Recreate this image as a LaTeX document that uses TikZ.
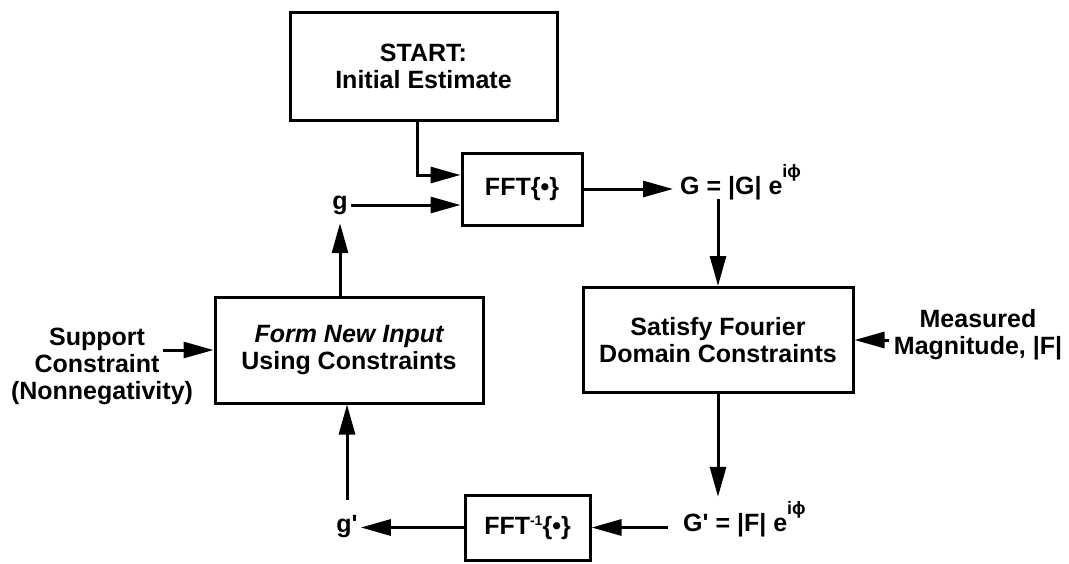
\documentclass[tikz,border=0pt]{standalone}
\usepackage{fontspec}
\setmainfont{Liberation Sans}
\usetikzlibrary{arrows.meta,calc}
\tikzset{
  box/.style={draw,line width=3pt,align=center,inner sep=0pt},
  lbl/.style={align=center,inner sep=3pt},
  arr/.style={line width=3pt,-{Triangle[length=30pt,width=16pt]}},
  every node/.style={font=\bfseries\fontsize{25}{27}\selectfont},
}
\newcommand{\supiphi}{\raisebox{17pt}{\fontsize{18}{18}\selectfont iϕ}}
\begin{document}
\begin{tikzpicture}[x=1pt,y=-1pt]
\useasboundingbox (0,0) rectangle (1069,563);
% boxes
\node[box,minimum width=267pt,minimum height=108pt] (start) at (423.5,66) {START:\\Initial Estimate};
\node[box,minimum width=120pt,minimum height=72pt] (fft) at (522,189) {FFT\{•\}};
\node[box,minimum width=270pt,minimum height=105pt] (sat) at (718,340) {Satisfy Fourier\\Domain Constraints};
\node[box,minimum width=268pt,minimum height=106pt] (form) at (349,350) {{\itshape Form New Input}\\Using Constraints};
\node[box,minimum width=125pt,minimum height=65pt] (fftinv) at (527.5,527.5) {FFT\raisebox{9pt}{\fontsize{14}{14}\selectfont -1}\{•\}};
% labels
\node[anchor=base west,inner xsep=7pt,inner ysep=0pt,text height=34pt,text depth=5pt] (G) at (673,194) {G = |G| e\supiphi};
\node[anchor=base west,inner xsep=15pt,inner ysep=0pt,text height=34pt,text depth=5pt] (Gp) at (668,531) {G\textquotesingle{} = |F| e\supiphi};
\node[lbl,minimum height=36pt] (g) at (340,205) {g};
\node[lbl,minimum height=54pt] (gp) at (347,527) {g\textquotesingle};
\node[lbl] (sup) at (97,350) {Support\\Constraint};
\node[lbl] (nonneg) at (102,393) {(Nonnegativity)};
\node[lbl,inner xsep=5pt] (meas) at (978,335) {Measured\\Magnitude, |F|};
% connectors
\coordinate (bend) at (417,175);
\draw[arr] (start.south -| bend) -- (bend) -- (fft.west |- bend);
\draw[arr] (g.east) -- (fft.west |- g.east);
\draw[arr] (fft.east) -- (G.west |- fft.east);
\draw[arr] (G.south -| sat.north) -- (sat.north);
\draw[arr] (meas.west |- sat.east) -- (sat.east);
\draw[arr] (sat.south) -- (Gp.north -| sat.south);
\draw[arr] (Gp.west |- fftinv.east) -- (fftinv.east);
\draw[arr] (fftinv.west) -- (gp.east |- fftinv.west);
\draw[arr] (gp.north) -- (form.south -| gp.north);
\draw[arr] (form.north -| g.south) -- (g.south);
\draw[arr] (sup.east |- form.west) -- (form.west);
\end{tikzpicture}
\end{document}
